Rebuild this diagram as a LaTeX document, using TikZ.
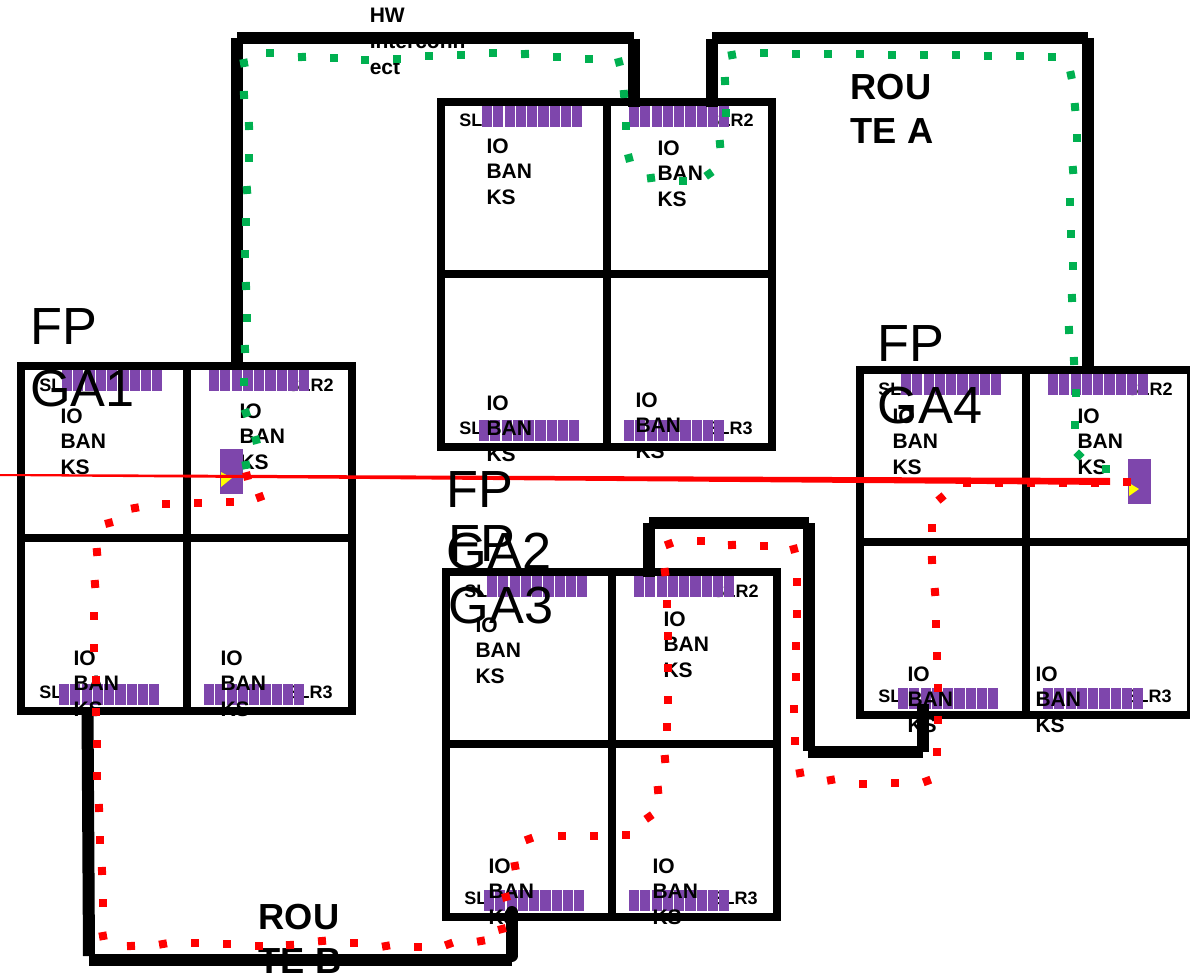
\documentclass[tikz,border=0pt]{standalone}
\usepackage{fontspec}
\setmainfont{Liberation Sans}
\definecolor{barpurple}{HTML}{7E46AC}
\definecolor{dotgreen}{HTML}{00B050}
\definecolor{linered}{HTML}{FF0000}
\definecolor{tipyellow}{HTML}{FFFF00}
\tikzset{
  gridline/.style={draw=black,line width=6pt,line cap=rect},
  routeline/.style={draw=black,line width=9pt},
  barcell/.style={fill=barpurple,draw=none},
  slrtext/.style={inner sep=0pt,font=\fontsize{13.5}{16}\bfseries\selectfont},
  iotext/.style={inner sep=0pt,anchor=north west,align=left,font=\fontsize{15.75}{19.1}\bfseries\selectfont},
  hwtext/.style={inner sep=0pt,anchor=north west,align=left,font=\fontsize{15.75}{19.5}\bfseries\selectfont},
  routetext/.style={inner sep=0pt,anchor=north west,align=left,font=\fontsize{27.2}{33}\bfseries\selectfont},
  fpgatext/.style={inner sep=0pt,anchor=north west,align=left,font=\fontsize{39.2}{46.5}\selectfont},
}
% nine purple cells starting at x,y
\newcommand{\barrow}[2]{%
  \foreach \i in {0,...,8}{\path[barcell] ({#1+\i*11.27},#2) rectangle ({#1+\i*11.27+10.2},{#2+21});}}
% one FPGA: name, corner x, corner y
\newcommand{\fpgagrid}[3]{%
  \begin{scope}[shift={(#2,#3)}]
    \node[slrtext,anchor=base west] (#1sl1) at (18,25) {SL};
    \node[slrtext,anchor=base east] (#1sl2) at (313,25) {SLR2};
    \node[slrtext,anchor=base west] (#1sl0) at (18,332.5) {SL};
    \node[slrtext,anchor=base east] (#1sl3) at (312,332.5) {SLR3};
    \barrow{41}{4}\barrow{188}{4}\barrow{38}{318}\barrow{183}{318}
  \end{scope}}
\newcommand{\fpgalines}[3]{%
  \begin{scope}[shift={(#2,#3)}]
    \coordinate (#1a) at (0,0); \coordinate (#1b) at (331,0);
    \coordinate (#1c) at (331,345); \coordinate (#1d) at (0,345);
    \coordinate (#1t) at (166,0); \coordinate (#1u) at (166,345);
    \coordinate (#1l) at (0,172); \coordinate (#1r) at (331,172);
    \draw[gridline] (#1a) -- (#1b) -- (#1c) -- (#1d) -- cycle;
    \draw[gridline] (#1t) -- (#1u);
    \draw[gridline] (#1l) -- (#1r);
  \end{scope}}
\newcommand{\iobank}[3]{\node[iotext] (#1) at ({#2-0.7},{#3-14.5}) {IO\\BAN\\KS};}
\newcommand{\squaredots}[2]{%
  \foreach \x/\y/\a in {#2}{\fill[#1,shift={(\x,\y)},rotate=\a] (-4,-4) rectangle (4,4);}}
\begin{document}
\begin{tikzpicture}[x=0.75pt,y=-0.75pt]
\useasboundingbox (0,0) rectangle (1190,977);
% SLR text and banks
\fpgagrid{fa}{21}{366}
\fpgagrid{fb}{441}{102}
\fpgagrid{fc}{446}{572}
\fpgagrid{fd}{860}{370}
% IO bank text
\iobank{fa1}{61}{423}\iobank{fa2}{240}{418}\iobank{fa3}{74}{665}\iobank{fa4}{221}{665}
\iobank{fb1}{487}{153}\iobank{fb2}{658}{155}\iobank{fb3}{487}{410}\iobank{fb4}{636}{407}
\iobank{fc1}{476}{632}\iobank{fc2}{664}{626}\iobank{fc3}{489}{873}\iobank{fc4}{653}{873}
\iobank{fd1}{893}{423}\iobank{fd2}{1078}{423}\iobank{fd3}{908}{681}\iobank{fd4}{1036}{681}
% grids
\fpgalines{fa}{21}{366}
\fpgalines{fb}{441}{102}
\fpgalines{fc}{446}{572}
\fpgalines{fd}{860}{370}
% labels under the routes
\node[hwtext] (hw) at (369.5,7.5) {HW\\Interconn\\ect};
\node[routetext] (routeA) at (850.5,74) {ROU\\TE A};
\node[routetext] (routeB) at (258.5,904) {ROU\\TE B};
% route A, left part
\coordinate (a1) at (236.5,368); \coordinate (a2) at (236.5,38);
\coordinate (a3) at (237,38.5); \coordinate (a4) at (634,38.5);
\coordinate (a5) at (634,39); \coordinate (a6) at (634,107);
\draw[routeline] (a1) -- (a2); \draw[routeline] (a3) -- (a4); \draw[routeline] (a5) -- (a6);
% route A, right part
\coordinate (a7) at (712,107); \coordinate (a8) at (712,39);
\coordinate (a9) at (712,38.5); \coordinate (a10) at (1088,38.5);
\coordinate (a11) at (1087.5,38); \coordinate (a12) at (1087.5,372);
\draw[routeline] (a7) -- (a8); \draw[routeline] (a9) -- (a10); \draw[routeline] (a11) -- (a12);
% route C between FPGA3 and FPGA4
\coordinate (c1) at (649,577); \coordinate (c2) at (649,523);
\coordinate (c3) at (649,523); \coordinate (c4) at (809,523);
\coordinate (c5) at (808.5,523); \coordinate (c6) at (808.5,751);
\coordinate (c7) at (808,751.5); \coordinate (c8) at (923,751.5);
\coordinate (c9) at (923,752); \coordinate (c10) at (923,704);
\draw[routeline] (c1) -- (c2); \draw[routeline] (c3) -- (c4); \draw[routeline] (c5) -- (c6);
\draw[routeline] (c7) -- (c8); \draw[routeline] (c9) -- (c10);
% route B
\coordinate (b1) at (87.5,708); \coordinate (b2) at (89,956);
\coordinate (b3) at (89,960); \coordinate (b4) at (512,960);
\coordinate (b5) at (511.5,956); \coordinate (b6) at (511.5,912);
\draw[routeline] (b1) -- (b2); \draw[routeline] (b3) -- (b4);
\draw[routeline,line cap=round] (b5) -- (b6);
% launch and capture blocks
\fill[barpurple] (220,449) rectangle (243,494);
\coordinate (y1) at (221,472); \coordinate (y2) at (221,487); \coordinate (y3) at (232,478);
\fill[tipyellow] (y1) -- (y3) -- (y2) -- cycle;
\fill[barpurple] (1128,459) rectangle (1151,504);
\coordinate (y4) at (1129,483); \coordinate (y5) at (1129,496); \coordinate (y6) at (1139,489);
\fill[tipyellow] (y4) -- (y6) -- (y5) -- cycle;
% green dotted net
\squaredots{dotgreen}{246/465/10,256/440/15,246/413/20,244/382/0,245/349/3,247/318/0,246/286/3,245/254/0,246/222/0,247/190/5,249/158/0,249/126/3,244/95/3,244/63/10,270/53/0,302/57/3,334/58/0,365/60/0,397/59/0,429/56/0,461/55/0,493/53/0,525/54/3,557/57/0,589/59/0,619/62/15,624/94/5,626/126/0,629/158/15,651/178/8,683/181/0,709/174/35,720/144/5,726/113/0,725/81/3,732/55/10,764/53/0,796/54/0,828/54/0,860/54/0,892/55/0,924/55/0,956/55/0,988/56/0,1020/56/0,1052/57/0,1071/75/12,1075/107/5,1077/138/0,1073/170/5,1070/202/0,1071/234/0,1073/266/0,1072/298/3,1069/330/3,1074/361/3,1076/393/0,1075/425/0,1079/455/45,1106/469/0}
% red dotted net
\squaredots{linered}{247/476/15,260/497/20,230/502/0,198/503/0,166/504/0,135/508/10,109/523/15,97/552/5,95/584/5,94/616/0,94/648/0,96/680/0,96/712/0,97/744/0,97/776/0,99/808/3,100/840/0,102/871/3,103/903/0,103/936/10,131/946/3,163/944/10,195/943/0,227/944/0,259/946/0,290/945/3,322/941/5,354/943/0,386/946/10,418/947/0,449/944/20,481/941/10,502/929/15,506/897/15,515/866/10,529/839/20,562/836/0,594/836/0,626/835/0,649/817/35,658/790/5,665/759/5,667/727/0,668/700/0,668/668/0,668/636/0,667/604/0,665/572/8,669/544/20,701/541/0,732/545/3,764/546/0,794/549/15,797/582/0,797/614/0,796/646/0,796/677/0,794/709/0,795/741/0,800/773/10,831/780/10,863/784/0,895/783/0,927/781/20,937/752/0,938/720/0,938/688/0,937/656/0,936/624/0,935/592/5,932/560/3,932/528/0,941/498/40,967/483/0,999/483/0,1031/483/0,1063/483/0,1095/483/0,1127/482/0}
% tapered red line
\coordinate (r1) at (0,474); \coordinate (r2) at (1110,478);
\coordinate (r3) at (1110,485); \coordinate (r4) at (0,476);
\fill[linered] (r1) -- (r2) -- (r3) -- (r4) -- cycle;
% big FPGA labels
\node[fpgatext] (fpga1) at (30,308) {FP\\GA1};
\node[fpgatext] (fpga4) at (877.5,325) {FP\\GA4};
\node[fpgatext] (fpga2) at (446.5,471) {FP\\GA2};
\node[fpgatext] (fpga3) at (448.5,525) {FP\\GA3};
\end{tikzpicture}
\end{document}
